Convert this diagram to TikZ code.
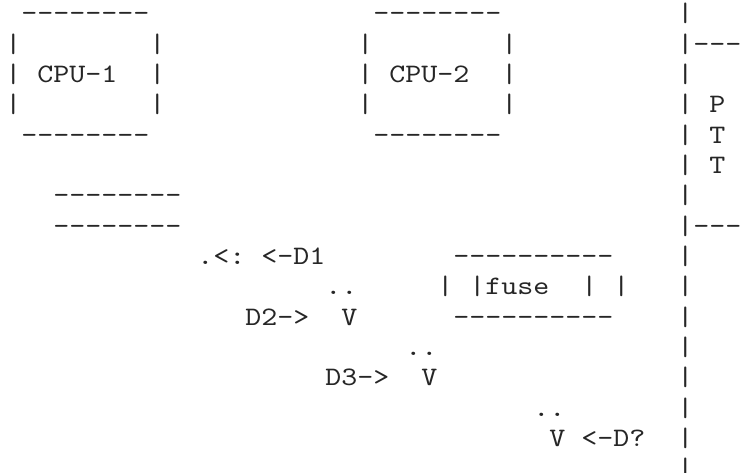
\documentclass[tikz,border=0pt]{standalone}
\usepackage{fontspec}
\setmonofont{lmmono10-regular.otf}[FakeStretch=1.1429]
\usepackage {tikz}

\begin{document}
\begin{tikzpicture}[x=12pt, y=-22.75pt, chr/.style={anchor=base west, inner sep=0pt, text=black!85, font=\ttfamily\fontsize{20}{22.75}\selectfont}]
			\useasboundingbox (-3.75pt,16.3pt) rectangle (556.5pt,-338.45pt);
			% CPU-1 box
			\node [chr] (C1top) at (1,0) {--------};
			\node [chr] (C1l1) at (0,1) {|};
			\node [chr] (C1r1) at (9,1) {|};
			\node [chr] (C1l2) at (0,2) {|};
			\node [chr] (C1) at (2,2) {CPU-1};
			\node [chr] (C1r2) at (9,2) {|};
			\node [chr] (C1l3) at (0,3) {|};
			\node [chr] (C1r3) at (9,3) {|};
			\node [chr] (C1bot) at (1,4) {--------};
			% CPU-2 box
			\node [chr] (C2top) at (23,0) {--------};
			\node [chr] (C2l1) at (22,1) {|};
			\node [chr] (C2r1) at (31,1) {|};
			\node [chr] (C2l2) at (22,2) {|};
			\node [chr] (C2) at (24,2) {CPU-2};
			\node [chr] (C2r2) at (31,2) {|};
			\node [chr] (C2l3) at (22,3) {|};
			\node [chr] (C2r3) at (31,3) {|};
			\node [chr] (C2bot) at (23,4) {--------};
			% bus
			\node [chr] (BusA) at (3,6) {--------};
			\node [chr] (BusB) at (3,7) {--------};
			% drops
			\node [chr] (J1) at (12,8) {.<:};
			\node [chr] (D1) at (16,8) {<-D1};
			\node [chr] (J2) at (20,9) {..};
			\node [chr] (D2) at (15,10) {D2->};
			\node [chr] (V2) at (21,10) {V};
			\node [chr] (J3) at (25,11) {..};
			\node [chr] (D3) at (20,12) {D3->};
			\node [chr] (V3) at (26,12) {V};
			\node [chr] (J4) at (33,13) {..};
			\node [chr] (V4) at (34,14) {V};
			\node [chr] (D4) at (36,14) {<-D?};
			% fuse
			\node [chr] (Ftop) at (28,8) {----------};
			\node [chr] (Fl1) at (27,9) {|};
			\node [chr] (F) at (29,9) {|fuse};
			\node [chr] (Fr1) at (36,9) {|};
			\node [chr] (Fr2) at (38,9) {|};
			\node [chr] (Fbot) at (28,10) {----------};
			% PTT
			\node [chr] (P0) at (42,0) {|};
			\node [chr] (P1) at (42,1) {|---};
			\node [chr] (P2) at (42,2) {|};
			\node [chr] (P3) at (42,3) {|};
			\node [chr] (P4) at (42,4) {|};
			\node [chr] (P5) at (42,5) {|};
			\node [chr] (P6) at (42,6) {|};
			\node [chr] (P7) at (42,7) {|---};
			\node [chr] (P8) at (42,8) {|};
			\node [chr] (P9) at (42,9) {|};
			\node [chr] (P10) at (42,10) {|};
			\node [chr] (P11) at (42,11) {|};
			\node [chr] (P12) at (42,12) {|};
			\node [chr] (P13) at (42,13) {|};
			\node [chr] (P14) at (42,14) {|};
			\node [chr] (P15) at (42,15) {|};
			\node [chr] (PTTp) at (44,3) {P};
			\node [chr] (PTTt) at (44,4) {T};
			\node [chr] (PTTt2) at (44,5) {T};
		\end{tikzpicture}
\end{document}
